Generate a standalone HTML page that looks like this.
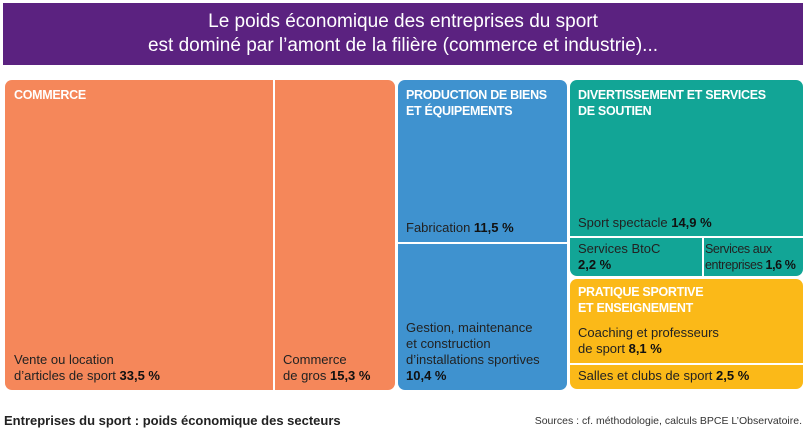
<!DOCTYPE html>
<html><head><meta charset="utf-8"><style>
body{margin:0;width:806px;height:438px;background:#fff;font-family:"Liberation Sans",sans-serif;position:relative;overflow:hidden}
.t{position:absolute;left:3px;top:3px;width:800px;height:62px;background:#5b2280;color:#fff;text-align:center;font-size:19px;line-height:24px;padding-top:7px;box-sizing:border-box}
.b{position:absolute;border-radius:7px}
.h{position:absolute;color:#fff;font-weight:bold;font-size:12.5px;line-height:16px;letter-spacing:-0.3px}
.l{position:absolute;color:#222;font-size:13px;line-height:16px;white-space:nowrap}
.l b{color:#111}
.vl{position:absolute;width:1.5px;background:#fff}
.hl{position:absolute;height:1.5px;background:#fff}
</style></head><body>
<div class="t">Le poids économique des entreprises du sport<br>est dominé par l’amont de la filière (commerce et industrie)...</div>

<div class="b" style="left:5px;top:80px;width:390px;height:310px;background:#f5875a"></div>
<div class="vl" style="left:273px;top:80px;height:310px"></div>
<div class="h" style="left:14px;top:87px">COMMERCE</div>
<div class="l" style="left:14px;top:352px">Vente ou location<br>d’articles de sport <b>33,5 %</b></div>
<div class="l" style="left:283px;top:352px">Commerce<br>de gros <b>15,3 %</b></div>

<div class="b" style="left:398px;top:80px;width:169px;height:310px;background:#3f92cf"></div>
<div class="hl" style="left:398px;top:242px;width:169px"></div>
<div class="h" style="left:406px;top:87px">PRODUCTION DE BIENS<br>ET ÉQUIPEMENTS</div>
<div class="l" style="left:406px;top:220px">Fabrication <b>11,5 %</b></div>
<div class="l" style="left:406px;top:320px">Gestion, maintenance<br>et construction<br>d’installations sportives<br><b>10,4 %</b></div>

<div class="b" style="left:570px;top:80px;width:233px;height:196px;background:#12a596"></div>
<div class="hl" style="left:570px;top:236px;width:233px"></div>
<div class="vl" style="left:702px;top:236px;height:40px"></div>
<div class="h" style="left:578px;top:87px">DIVERTISSEMENT ET SERVICES<br>DE SOUTIEN</div>
<div class="l" style="left:578px;top:215px">Sport spectacle <b>14,9 %</b></div>
<div class="l" style="left:578px;top:241px">Services BtoC<br><b>2,2 %</b></div>
<div class="l" style="left:705px;top:241px;font-size:12.5px;letter-spacing:-0.4px">Services aux<br>entreprises <b>1,6 %</b></div>

<div class="b" style="left:570px;top:279px;width:233px;height:110px;background:#fbb918"></div>
<div class="hl" style="left:570px;top:363px;width:233px"></div>
<div class="h" style="left:578px;top:284px">PRATIQUE SPORTIVE<br>ET ENSEIGNEMENT</div>
<div class="l" style="left:578px;top:325px">Coaching et professeurs<br>de sport <b>8,1 %</b></div>
<div class="l" style="left:578px;top:368px">Salles et clubs de sport <b>2,5 %</b></div>

<div style="position:absolute;left:4px;top:413px;font-size:13px;font-weight:bold;color:#222">Entreprises du sport : poids économique des secteurs</div>
<div style="position:absolute;right:4px;top:415px;font-size:10.5px;color:#333">Sources : cf. méthodologie, calculs BPCE L’Observatoire.</div>
</body></html>
